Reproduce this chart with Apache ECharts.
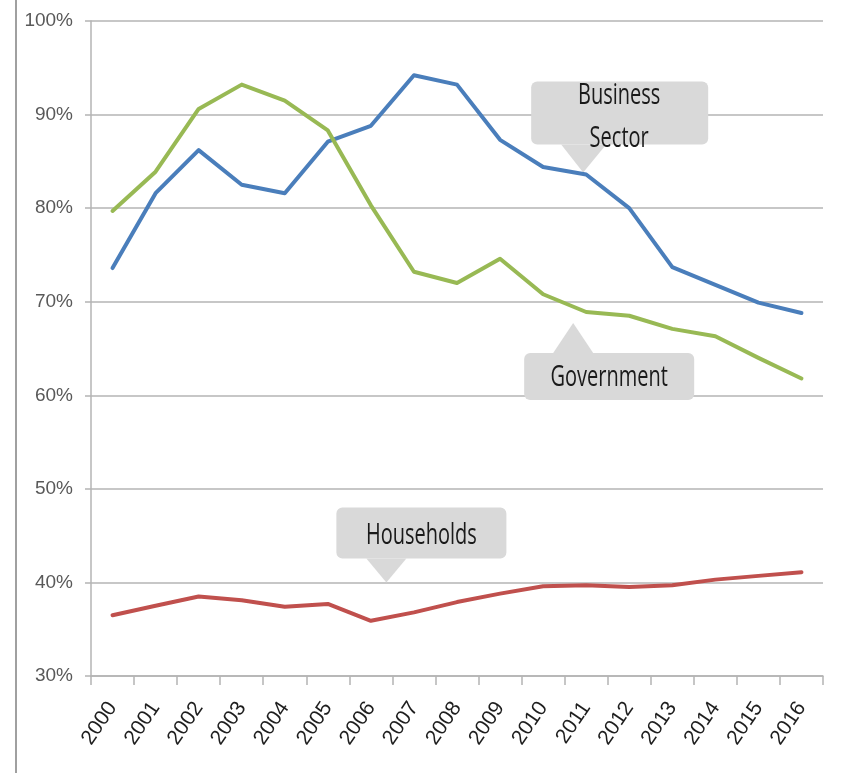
<!DOCTYPE html>
<html>
<head>
<meta charset="utf-8">
<script src="https://cdn.jsdelivr.net/npm/echarts@6/dist/echarts.min.js"></script>
<style>
html,body{margin:0;padding:0;background:#fff;}
#chart{width:842px;height:773px;}
</style>
</head>
<body>
<div id="chart"></div>
<script>
const years = ['2000','2001','2002','2003','2004','2005','2006','2007','2008','2009','2010','2011','2012','2013','2014','2015','2016'];
const business = [73.6,81.6,86.2,82.5,81.6,87.1,88.8,94.2,93.2,87.3,84.4,83.6,80.0,73.7,71.8,69.9,68.8];
const government = [79.7,83.9,90.6,93.2,91.5,88.3,80.3,73.2,72.0,74.6,70.8,68.9,68.5,67.1,66.3,64.0,61.8];
const households = [36.5,37.5,38.5,38.1,37.4,37.7,35.9,36.8,37.9,38.8,39.6,39.7,39.5,39.7,40.3,40.7,41.1];
const yTicks = {min: 30, max: 100, interval: 10};
const seriesNames = ['Business Sector', 'Government', 'Households'];

const chart = echarts.init(document.getElementById('chart'), null, {renderer: 'canvas'});
const gridColor = '#b4b4b4';
const lineStyle = (c) => ({color: c, width: 4, cap: 'round', join: 'round'});

chart.setOption({
  animation: false,
  backgroundColor: '#ffffff',
  grid: {left: 91, right: 19, top: 21, bottom: 97, containLabel: false},
  xAxis: {
    type: 'category',
    data: years,
    boundaryGap: true,
    axisLine: {show: true, lineStyle: {color: gridColor, width: 1.5}},
    axisTick: {show: true, length: 9, lineStyle: {color: gridColor, width: 1.5}},
    axisLabel: {
      rotate: 56, margin: 28, interval: 0,
      fontFamily: 'Liberation Sans', fontSize: 21, color: '#1e1e1e'
    },
    splitLine: {show: false}
  },
  yAxis: {
    type: 'value',
    min: yTicks.min, max: yTicks.max, interval: yTicks.interval,
    axisLine: {show: true, lineStyle: {color: gridColor, width: 1.5}},
    axisTick: {show: true, length: 6, lineStyle: {color: gridColor, width: 1.5}},
    axisLabel: {
      formatter: '{value}%', margin: 18,
      fontFamily: "'Liberation Sans', sans-serif",
      fontSize: 19, color: '#595959'
    },
    splitLine: {show: true, lineStyle: {color: gridColor, width: 1.5}}
  },
  series: [
    {name: seriesNames[2], type: 'line', data: households, showSymbol: false, lineStyle: lineStyle('#c0504d'), z: 2},
    {name: seriesNames[0], type: 'line', data: business, showSymbol: false, lineStyle: lineStyle('#4a7ebb'), z: 3},
    {name: seriesNames[1], type: 'line', data: government, showSymbol: false, lineStyle: lineStyle('#98b954'), z: 4}
  ]
});

// Callout annotations anchored to data coordinates
function px(i, v) { return chart.convertToPixel({gridIndex: 0}, [i, v]); }
const fill = '#d9d9d9';
const textFont = {fontFamily: "'Open Sans', 'Noto Sans', sans-serif", fontSize: 20, fill: '#1a1a1a'};

function callout(tip, box, base, lines) {
  const children = [
    {type: 'rect', shape: {x: tip[0] + box[0], y: tip[1] + box[1], width: box[2], height: box[3], r: 6}, style: {fill: fill}},
    {type: 'polygon', shape: {points: [[tip[0] + base[0], tip[1] + base[2]], [tip[0] + base[1], tip[1] + base[2]], [tip[0], tip[1]]]}, style: {fill: fill}}
  ];
  lines.forEach(l => {
    children.push({
      type: 'text', x: tip[0] + l.dx, y: tip[1] + l.dy, scaleY: 1.45,
      style: Object.assign({text: l.t, align: 'center', verticalAlign: 'middle'}, textFont),
      z: 10
    });
  });
  return {type: 'group', children: children, z: 50};
}

const bTip = px(11, business[11]); bTip[0] -= 3; bTip[1] -= 2;
const gTip = px(11, government[11]); gTip[0] -= 13; gTip[1] += 11;
const h0 = px(6, 40), h1 = px(7, 40);
const hTip = [h0[0] + (h1[0] - h0[0]) * 0.36, h0[1]];

chart.setOption({
  graphic: [
    {type: 'line', shape: {x1: 16, y1: 0, x2: 16, y2: 773}, style: {stroke: '#808080', lineWidth: 1.5}},
    callout(bTip, [-52, -91, 177, 63], [-22, 23, -28], [{t: 'Business', dx: 36, dy: -77}, {t: 'Sector', dx: 36, dy: -34}]),
    callout(gTip, [-49, 30, 170, 47], [-20, 20, 30], [{t: 'Government', dx: 36, dy: 55}]),
    callout(hTip, [-50, -75, 170, 51], [-20, 20, -24], [{t: 'Households', dx: 35, dy: -47}])
  ]
});
</script>
</body>
</html>
